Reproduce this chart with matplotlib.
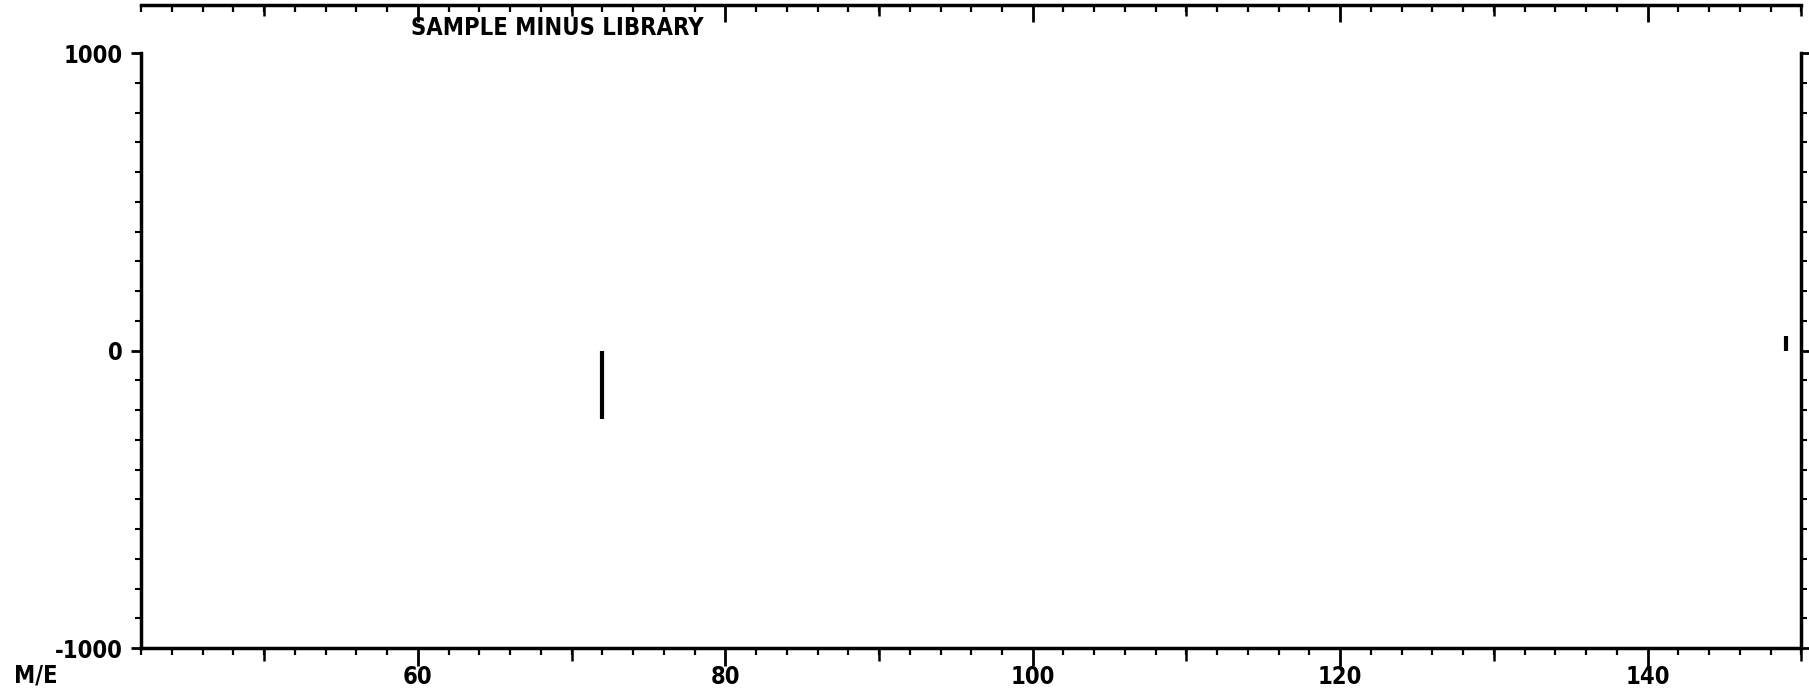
import matplotlib
matplotlib.use("Agg")
import matplotlib.pyplot as plt
from matplotlib.ticker import MultipleLocator, FixedLocator

# difference spectrum: sample minus library
mz = [72, 149]
intensity = [-230, 50]

x_ticks = [60, 80, 100, 120, 140]
x_labels = ["60", "80", "100", "120", "140"]
y_ticks = [-1000, 0, 1000]
y_labels = ["-1000", "0", "1000"]
mid_ticks = [50, 70, 90, 110, 130, 150]

XMIN, XMAX = 42, 150
TXT = dict(family="DejaVu Sans", fontweight="bold", fontstretch="condensed", fontsize=17)

fig = plt.figure(figsize=(18.09, 7.0), dpi=100)
ax = fig.add_axes([0.078, 0.074, 0.9178, 0.850])

ax.vlines(mz, 0, intensity, colors="black", lw=3)
ax.set_xlim(XMIN, XMAX)
ax.set_ylim(-1000, 1000)

for s in ["left", "bottom", "right"]:
    ax.spines[s].set_linewidth(2.5)
ax.spines["top"].set_visible(False)

ax.xaxis.set_major_locator(FixedLocator(x_ticks))
ax.set_xticklabels(x_labels, **TXT)
ax.xaxis.set_minor_locator(MultipleLocator(2))
ax.tick_params(axis="x", which="major", direction="out", length=13, width=2, pad=-1)
ax.tick_params(axis="x", which="minor", direction="out", length=5, width=1.6)

# medium ticks every 10
sec = ax.secondary_xaxis("bottom")
sec.set_xticks(mid_ticks)
sec.set_xticklabels([])
sec.tick_params(direction="out", length=9, width=1.8)
sec.spines["bottom"].set_visible(False)

ax.yaxis.set_major_locator(FixedLocator(y_ticks))
ax.set_yticklabels(y_labels, **TXT)
ax.yaxis.set_minor_locator(MultipleLocator(100))
ax.tick_params(axis="y", which="major", direction="out", length=7, width=2, pad=6,
               right=True)
ax.tick_params(axis="y", which="minor", direction="out", length=4, width=1.5,
               right=True)

fig.text(0.008, 0.035, "M/E", va="center", ha="left", **TXT)
fig.text(0.227, 0.960, "SAMPLE MINUS LIBRARY", va="center", ha="left", **TXT)

# axis of the spectrum above, cut off at the top edge
top = fig.add_axes([0.078, 0.993, 0.9178, 0.004])
top.set_xlim(XMIN, XMAX)
top.set_yticks([])
for s in ["left", "right", "top"]:
    top.spines[s].set_visible(False)
top.spines["bottom"].set_linewidth(2.5)
top.xaxis.set_major_locator(FixedLocator(x_ticks))
top.xaxis.set_minor_locator(MultipleLocator(2))
top.set_xticklabels([])
top.tick_params(axis="x", which="major", direction="out", length=12, width=2)
top.tick_params(axis="x", which="minor", direction="out", length=5, width=1.6)
top.patch.set_alpha(0)
top_sec = top.secondary_xaxis("bottom")
top_sec.set_xticks(mid_ticks)
top_sec.set_xticklabels([])
top_sec.tick_params(direction="out", length=8, width=1.8)
top_sec.spines["bottom"].set_visible(False)

fig.savefig("out.png", dpi=100, facecolor="white")
